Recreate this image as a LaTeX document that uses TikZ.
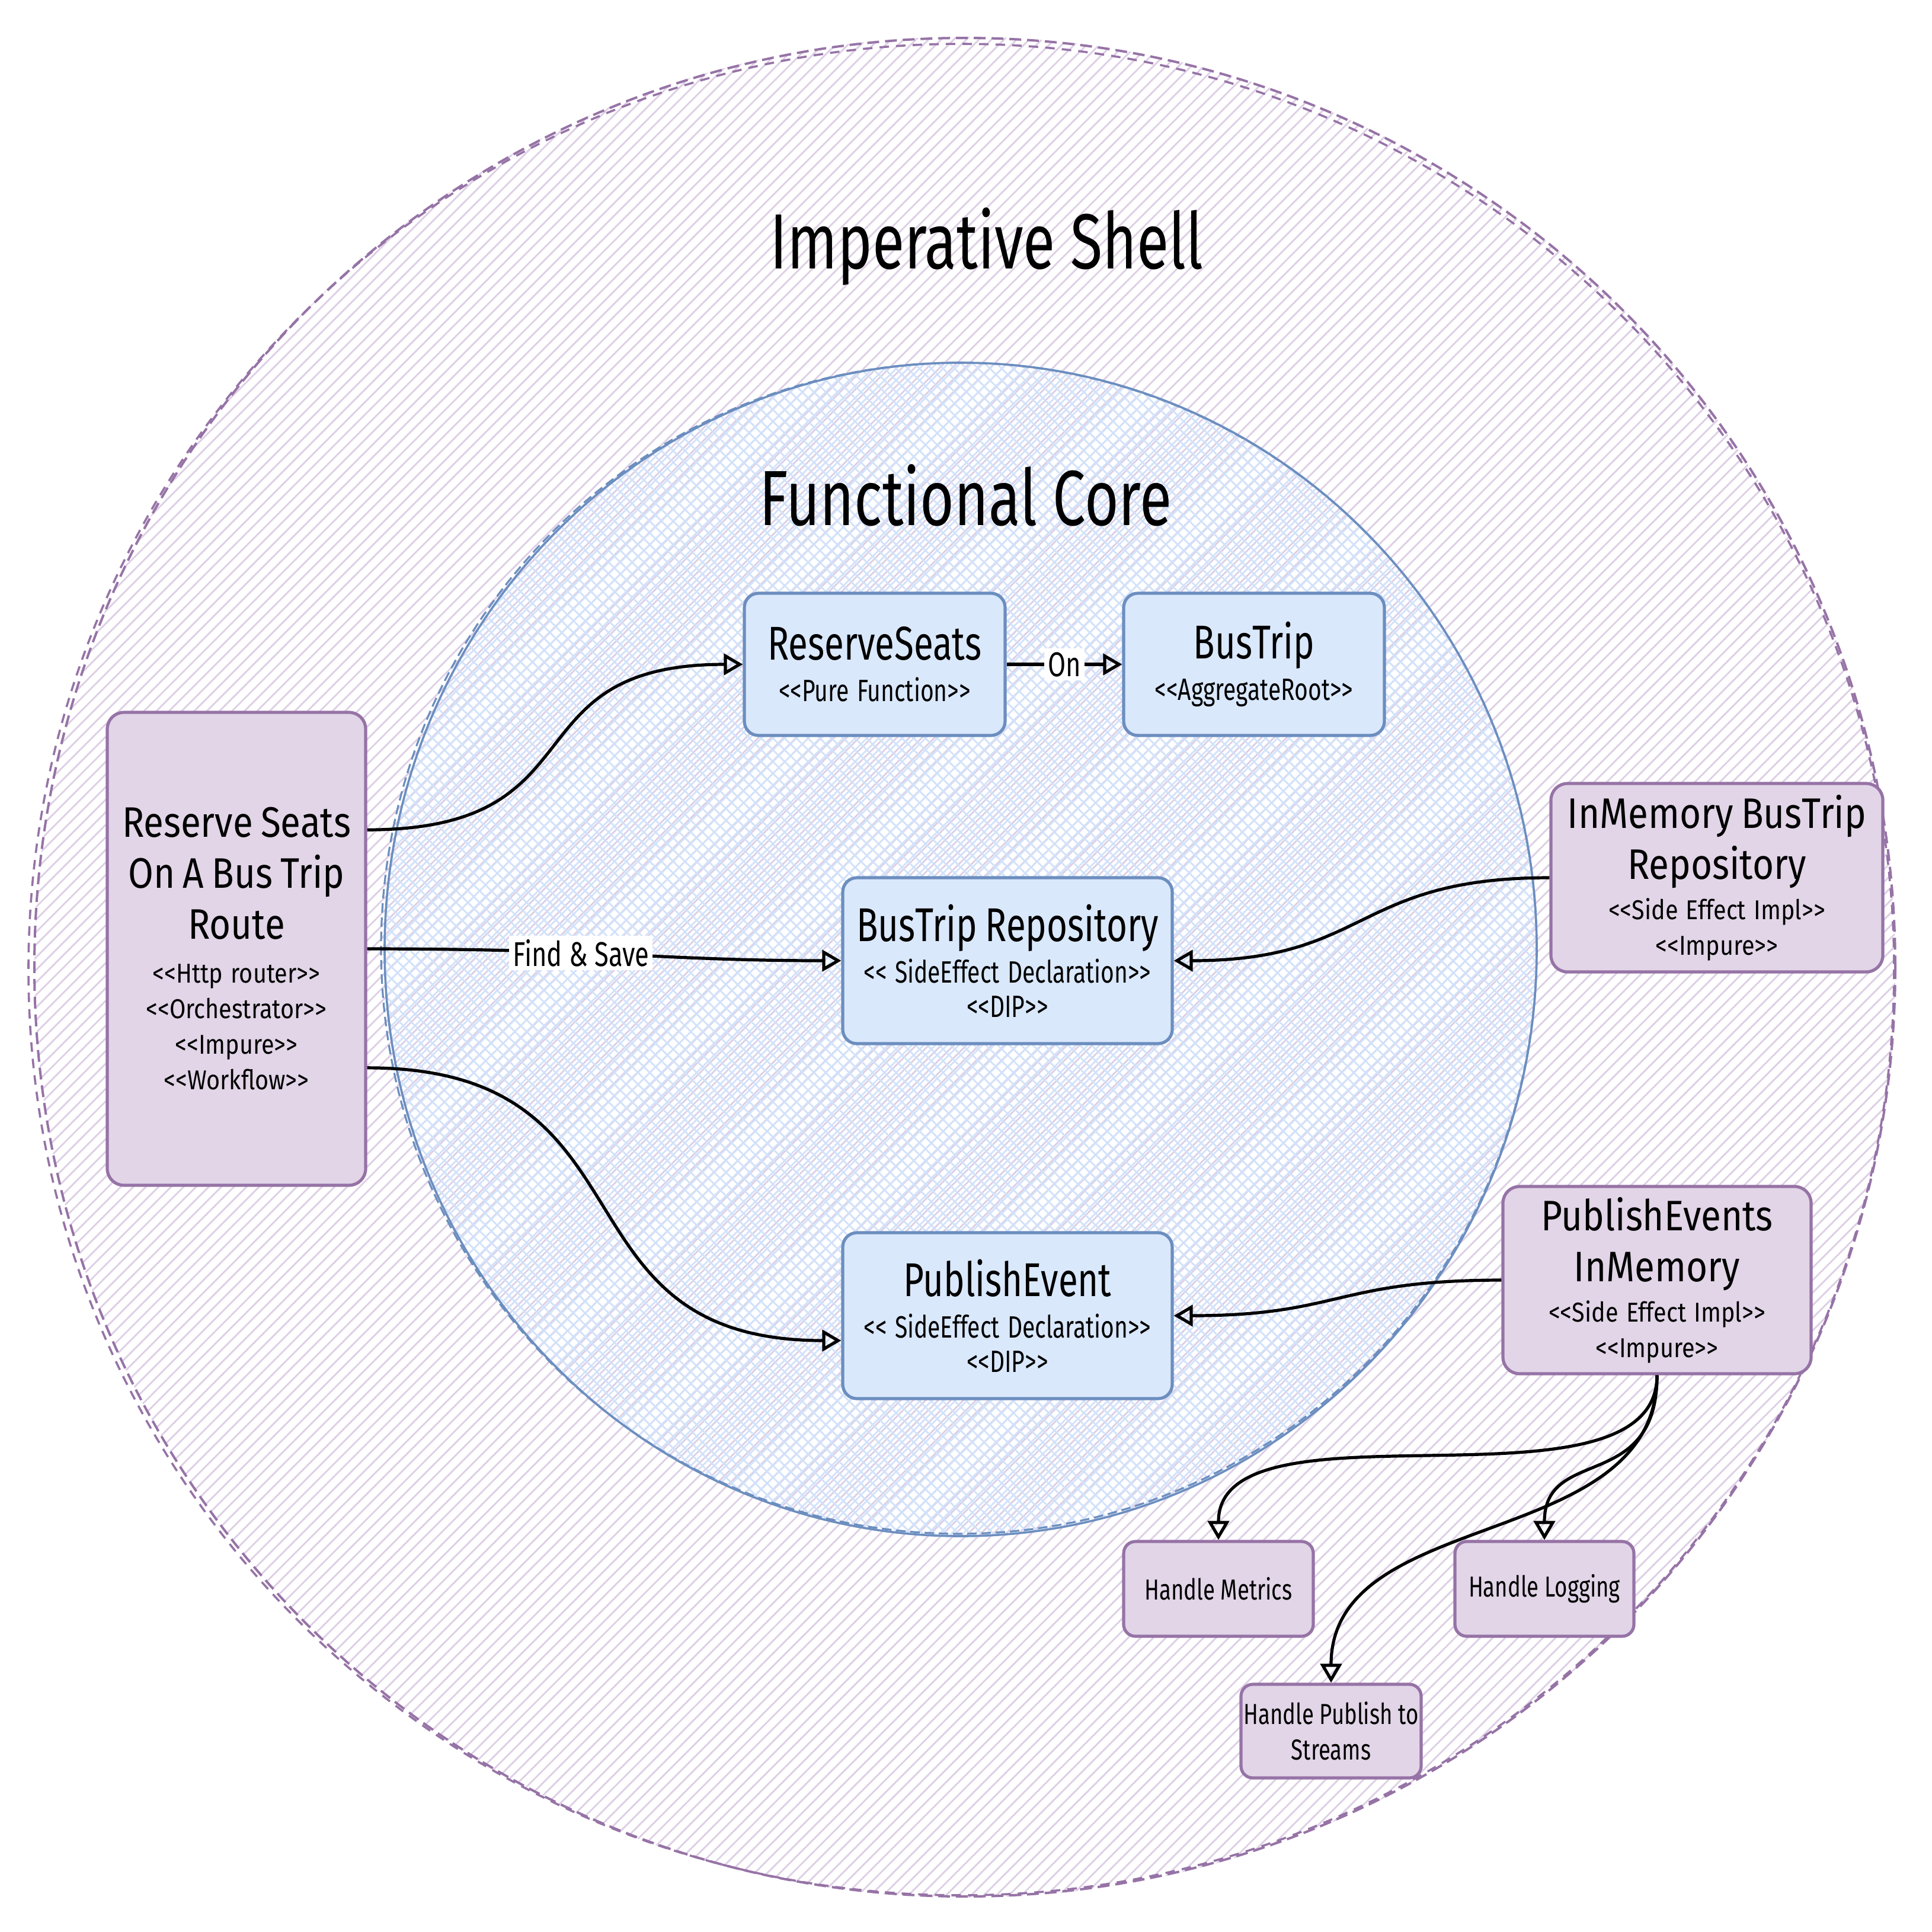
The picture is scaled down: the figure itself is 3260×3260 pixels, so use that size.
\documentclass[tikz,border=0pt]{standalone}
\usepackage{fontspec}
\setmainfont{Fira Sans}
\newfontfamily\handf[FakeStretch=0.86]{Fira Sans}
\newfontfamily\narf[FakeStretch=0.75]{Fira Sans}
\usetikzlibrary{arrows.meta,calc}
\definecolor{pfill}{HTML}{E1D5E7}
\definecolor{pline}{HTML}{9673A6}
\definecolor{bfill}{HTML}{DAE8FC}
\definecolor{bline}{HTML}{6C8EBF}
\definecolor{phatch}{HTML}{DDCFE5}
\definecolor{bhatch}{HTML}{D2E2FA}
\newcommand\ptitle{\handf\fontsize{18}{21.5}\selectfont}
\newcommand\pster{\handf\fontsize{11.5}{15}\selectfont}
\newcommand\btitle{\narf\fontsize{20}{24}\selectfont}
\newcommand\bster{\narf\fontsize{13}{14.5}\selectfont}
\newcommand\bsmall{\narf\fontsize{12.2}{15}\selectfont}
\newcommand\bigtitle{\narf\fontsize{33}{40}\selectfont}
\newcommand\lblfont{\narf\fontsize{14.5}{17}\selectfont}
\newcommand\LLa{<\kern0pt<}
\newcommand\RRa{>\kern0pt>}
\tikzset{
  pbox/.style={draw=pline, fill=pfill, line width=1.3pt, rounded corners=7pt, align=center, inner sep=0pt},
  bbox/.style={draw=bline, fill=bfill, line width=1.3pt, rounded corners=6pt, align=center, inner sep=0pt},
  conn/.style={line width=1.3pt, -{Triangle[open, length=8pt, width=9pt]}},
  elabel/.style={fill=white, inner sep=1.5pt, font=\lblfont},
}
\begin{document}
\begin{tikzpicture}[x=0.25pt,y=-0.25pt]
\useasboundingbox (0,0) rectangle (3260,3260);
\fill[white] (0,0) rectangle (3260,3260);

% outer shell hatch
\begin{scope}
  \clip (1628,1632) circle [radius=1570];
  \begin{scope}[shift={(1628,1632)}, rotate=45]
    \foreach \t in {-1600,-1585,...,1600} \draw[phatch, line width=0.7pt] (-1650,\t) -- (1650,\t);
  \end{scope}
\end{scope}
\draw[pline, line width=1pt, dash pattern=on 5pt off 2.5pt] (1628,1632) circle [x radius=1570, y radius=1568];
\draw[pline, line width=0.9pt, dash pattern=on 4pt off 3pt] (1622,1636) circle [x radius=1574, y radius=1562];

% inner core hatch
\begin{scope}
  \clip (1621,1602) circle [x radius=972, y radius=990];
  \begin{scope}[shift={(1621,1602)}, rotate=45]
    \foreach \t in {-1050,-1036,...,1050} \draw[bhatch, line width=0.7pt] (-1100,\t) -- (1100,\t);
  \end{scope}
  \begin{scope}[shift={(1621,1602)}, rotate=-45]
    \foreach \t in {-1050,-1036,...,1050} \draw[bhatch, line width=0.7pt] (-1100,\t) -- (1100,\t);
  \end{scope}
\end{scope}
\draw[bline, line width=0.9pt] (1621,1602) circle [x radius=972, y radius=990];
\draw[bline, line width=0.8pt, dash pattern=on 4pt off 2pt] (1618,1600) circle [x radius=975, y radius=988];

% titles
\node (shellT) at (1665,416) {\bigtitle Imperative Shell};
\node (coreT) at (1629,836) {\bigtitle Functional Core};

% boxes
\node[pbox, text width=104pt, minimum width=109pt, minimum height=199.5pt] (route) at (399,1601)
  {{\ptitle Reserve Seats\\On A Bus Trip\\Route\par}\vspace{3.5pt}{\pster \LLa Http router\RRa\\\LLa Orchestrator\RRa\\\LLa Impure\RRa\\\LLa Workflow\RRa\par}};
\node[bbox, text width=105pt, minimum width=110pt, minimum height=60pt] (rs) at (1476,1121)
  {{\btitle ReserveSeats\par}\vspace{3pt}{\bster \LLa Pure Function\RRa\par}};
\node[bbox, text width=105pt, minimum width=110pt, minimum height=60pt] (bt) at (2116,1121)
  {{\btitle BusTrip\par}\vspace{3pt}{\bster \LLa AggregateRoot\RRa\par}};
\node[bbox, text width=134pt, minimum width=139pt, minimum height=70pt] (rep) at (1700,1621)
  {{\btitle BusTrip Repository\par}\vspace{3pt}{\bster \LLa{} SideEffect Declaration\RRa\\\LLa DIP\RRa\par}};
\node[bbox, text width=134pt, minimum width=139pt, minimum height=70pt] (pubev) at (1700,2220)
  {{\btitle PublishEvent\par}\vspace{3pt}{\bster \LLa{} SideEffect Declaration\RRa\\\LLa DIP\RRa\par}};
\node[pbox, text width=134pt, minimum width=140pt, minimum height=79.5pt] (inmem) at (2897,1481)
  {{\ptitle InMemory BusTrip\\Repository\par}\vspace{2pt}{\pster \LLa Side Effect Impl\RRa\\\LLa Impure\RRa\par}};
\node[pbox, text width=124pt, minimum width=130pt, minimum height=79pt] (pubevs) at (2796,2160)
  {{\ptitle PublishEvents\\InMemory\par}\vspace{2pt}{\pster \LLa Side Effect Impl\RRa\\\LLa Impure\RRa\par}};
\node[pbox, rounded corners=5pt, font=\bsmall, minimum width=80pt, minimum height=40pt] (hm) at (2056,2681)
  {Handle Metrics};
\node[pbox, rounded corners=5pt, font=\bsmall, minimum width=75.5pt, minimum height=40pt] (hl) at (2606,2681)
  {Handle Logging};
\node[pbox, rounded corners=5pt, font=\bsmall, minimum width=76pt, minimum height=39.5pt] (hps) at (2246,2921)
  {Handle Publish to\\Streams};

% connectors
\coordinate (routeA) at ($(route.north east)!.25!(route.south east)$);
\coordinate (routeC) at ($(route.north east)!.75!(route.south east)$);
\coordinate (pubIn) at ($(pubev.west)+(0,42)$);

\draw[conn] (routeA) .. controls +(400,0) and +(-400,0) .. (rs.west);
\draw[conn] (route.east) .. controls +(400,0) and +(-300,0) .. (rep.west)
  node[elabel, pos=0.39] (fs) {Find \& Save};
\draw[conn] (routeC) .. controls +(500,0) and +(-500,0) .. (pubIn);
\draw[conn] (rs.east) -- (bt.west) node[elabel, midway] (onl) {On};
\draw[conn] (inmem.west) .. controls +(-330,0) and +(330,0) .. (rep.east);
\draw[conn] (pubevs.west) .. controls +(-280,0) and +(280,0) .. (pubev.east);
\draw[conn] (pubevs.south) .. controls +(0,250) and +(0,-250) .. (hm.north);
\draw[conn] (pubevs.south) .. controls +(0,200) and +(0,-160) .. (hl.north);
\draw[conn] (pubevs.south) .. controls +(0,300) and +(0,-300) .. (hps.north);
\end{tikzpicture}
\end{document}
